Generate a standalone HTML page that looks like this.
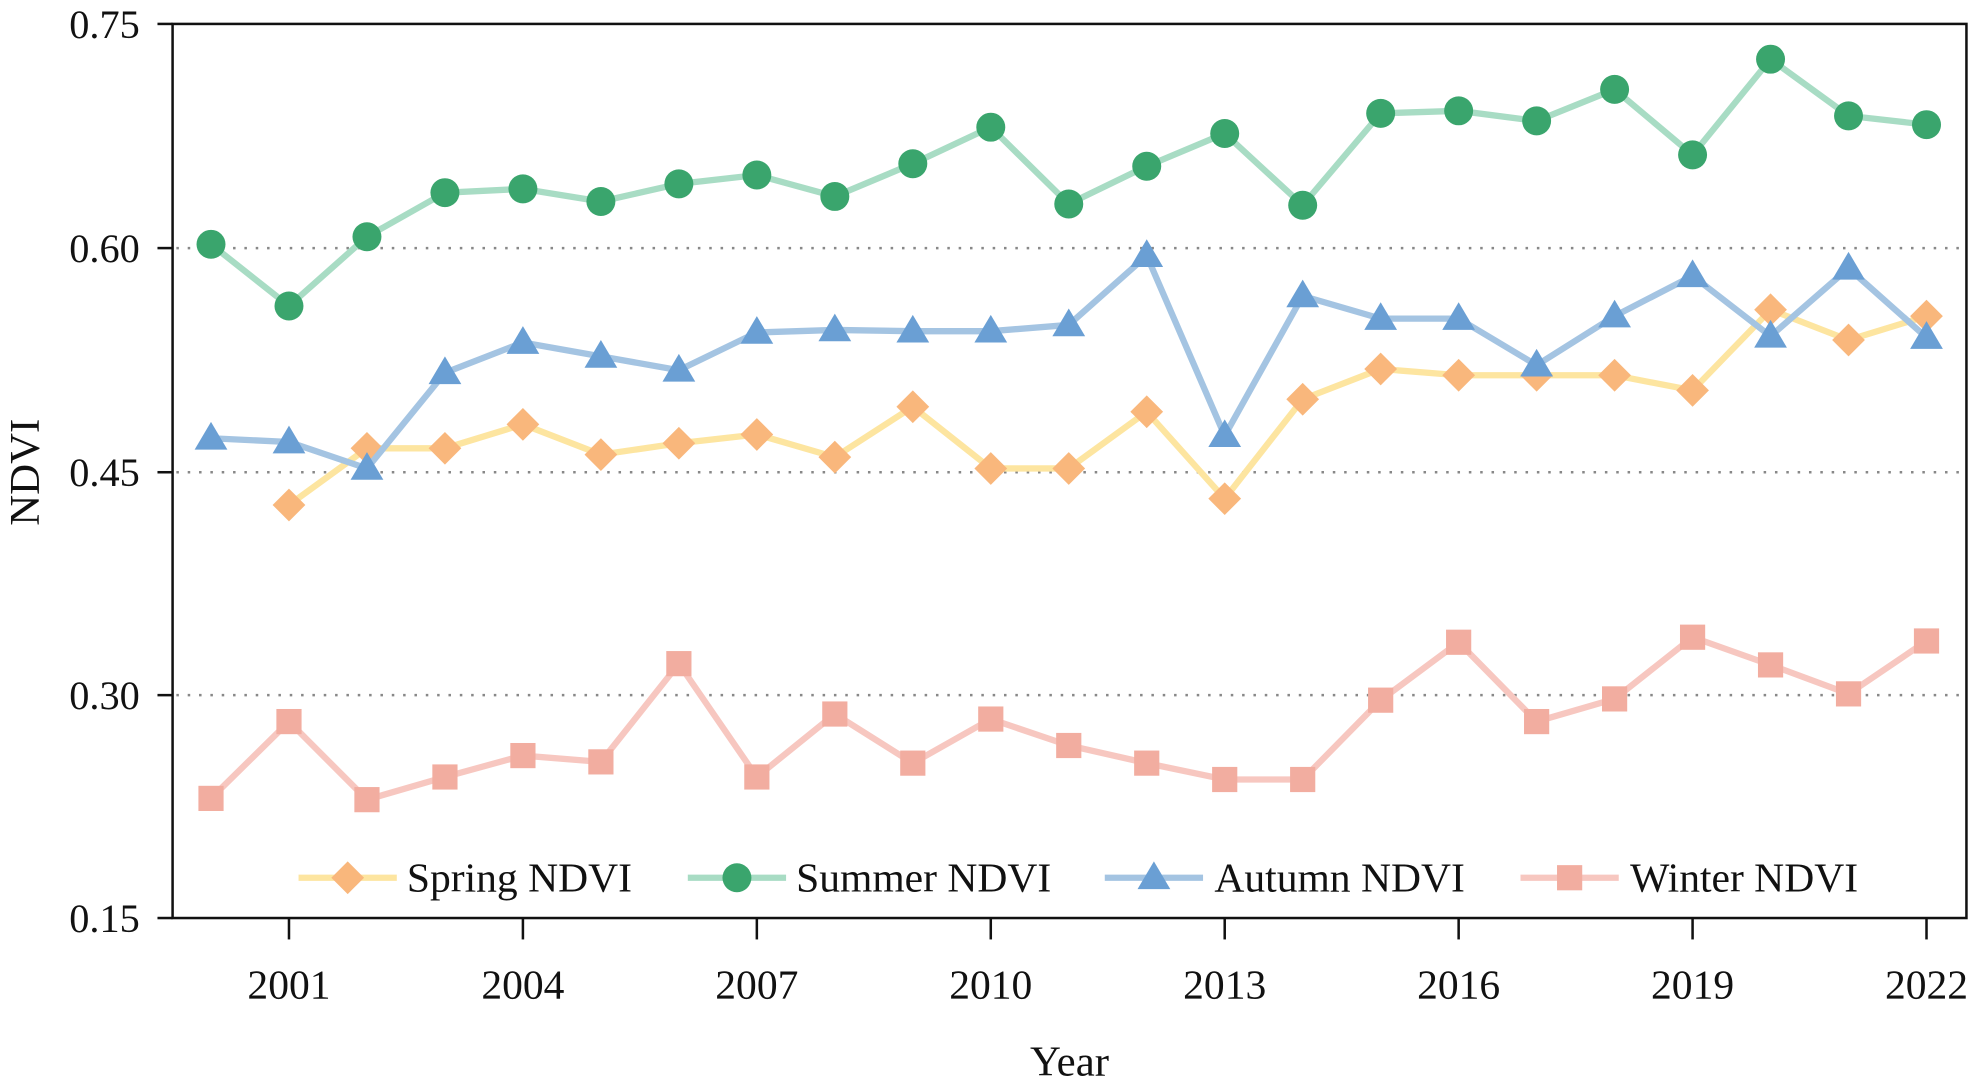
<!DOCTYPE html>
<html><head><style>html,body{margin:0;padding:0;background:#fff}svg{display:block}</style></head><body>
<svg width="1974" height="1083" viewBox="0 0 1567 860" preserveAspectRatio="none" xmlns="http://www.w3.org/2000/svg" font-family="Liberation Serif, serif" fill="#111">
<g stroke="#888" stroke-width="2" stroke-dasharray="2,7">
<line x1="140" y1="197" x2="1560" y2="197"/><line x1="140" y1="375" x2="1560" y2="375"/><line x1="140" y1="552" x2="1560" y2="552"/>
</g>
<rect x="137" y="19" width="1424" height="710" fill="none" stroke="#111" stroke-width="2"/>
<g stroke="#111" stroke-width="2">
<line x1="125" y1="19" x2="137" y2="19"/><line x1="125" y1="197" x2="137" y2="197"/><line x1="125" y1="375" x2="137" y2="375"/><line x1="125" y1="552" x2="137" y2="552"/><line x1="125" y1="729" x2="137" y2="729"/>
<line x1="229.4" y1="729" x2="229.4" y2="746"/><line x1="415.1" y1="729" x2="415.1" y2="746"/><line x1="600.8" y1="729" x2="600.8" y2="746"/><line x1="786.5" y1="729" x2="786.5" y2="746"/><line x1="972.2" y1="729" x2="972.2" y2="746"/><line x1="1157.9" y1="729" x2="1157.9" y2="746"/><line x1="1343.6" y1="729" x2="1343.6" y2="746"/><line x1="1529.3" y1="729" x2="1529.3" y2="746"/>
</g>
<g font-size="32" text-anchor="end">
<text x="111" y="30">0.75</text><text x="111" y="208">0.60</text><text x="111" y="386">0.45</text><text x="111" y="563">0.30</text><text x="111" y="740">0.15</text>
</g>
<g font-size="33" text-anchor="middle">
<text x="229.4" y="793">2001</text><text x="415.1" y="793">2004</text><text x="600.8" y="793">2007</text><text x="786.5" y="793">2010</text><text x="972.2" y="793">2013</text><text x="1157.9" y="793">2016</text><text x="1343.6" y="793">2019</text><text x="1529.3" y="793">2022</text>
<text x="849" y="854" font-size="34">Year</text>
<text transform="translate(31,375) rotate(-90)" font-size="34">NDVI</text>
</g>
<!-- Summer -->
<polyline fill="none" stroke="#a8dcc4" stroke-width="5" points="167.5,194 229.4,243 291.3,188 353.2,153 415.1,150 477,160 538.9,146 600.8,139 662.7,156 724.6,130 786.5,101 848.4,162 910.3,132 972.2,106 1034.1,163 1096,90 1157.9,88 1219.8,96 1281.7,71 1343.6,123 1405.5,47 1467.4,92 1529.3,99"/>
<g fill="#3aa56d">
<circle cx="167.5" cy="194" r="11.5"/><circle cx="229.4" cy="243" r="11.5"/><circle cx="291.3" cy="188" r="11.5"/><circle cx="353.2" cy="153" r="11.5"/><circle cx="415.1" cy="150" r="11.5"/><circle cx="477" cy="160" r="11.5"/><circle cx="538.9" cy="146" r="11.5"/><circle cx="600.8" cy="139" r="11.5"/><circle cx="662.7" cy="156" r="11.5"/><circle cx="724.6" cy="130" r="11.5"/><circle cx="786.5" cy="101" r="11.5"/><circle cx="848.4" cy="162" r="11.5"/><circle cx="910.3" cy="132" r="11.5"/><circle cx="972.2" cy="106" r="11.5"/><circle cx="1034.1" cy="163" r="11.5"/><circle cx="1096" cy="90" r="11.5"/><circle cx="1157.9" cy="88" r="11.5"/><circle cx="1219.8" cy="96" r="11.5"/><circle cx="1281.7" cy="71" r="11.5"/><circle cx="1343.6" cy="123" r="11.5"/><circle cx="1405.5" cy="47" r="11.5"/><circle cx="1467.4" cy="92" r="11.5"/><circle cx="1529.3" cy="99" r="11.5"/>
</g>
<!-- Spring -->
<polyline fill="none" stroke="#fde5a0" stroke-width="5" points="229.4,401 291.3,356 353.2,356 415.1,337 477,361 538.9,352 600.8,345 662.7,363 724.6,323 786.5,372 848.4,372 910.3,327 972.2,396 1034.1,317 1096,293 1157.9,298 1219.8,298 1281.7,298 1343.6,310 1405.5,246 1467.4,270 1529.3,251"/>
<g fill="#f9b77c">
<path d="M229.4,388l13,13l-13,13l-13,-13z"/><path d="M291.3,343l13,13l-13,13l-13,-13z"/><path d="M353.2,343l13,13l-13,13l-13,-13z"/><path d="M415.1,324l13,13l-13,13l-13,-13z"/><path d="M477,348l13,13l-13,13l-13,-13z"/><path d="M538.9,339l13,13l-13,13l-13,-13z"/><path d="M600.8,332l13,13l-13,13l-13,-13z"/><path d="M662.7,350l13,13l-13,13l-13,-13z"/><path d="M724.6,310l13,13l-13,13l-13,-13z"/><path d="M786.5,359l13,13l-13,13l-13,-13z"/><path d="M848.4,359l13,13l-13,13l-13,-13z"/><path d="M910.3,314l13,13l-13,13l-13,-13z"/><path d="M972.2,383l13,13l-13,13l-13,-13z"/><path d="M1034.1,304l13,13l-13,13l-13,-13z"/><path d="M1096,280l13,13l-13,13l-13,-13z"/><path d="M1157.9,285l13,13l-13,13l-13,-13z"/><path d="M1219.8,285l13,13l-13,13l-13,-13z"/><path d="M1281.7,285l13,13l-13,13l-13,-13z"/><path d="M1343.6,297l13,13l-13,13l-13,-13z"/><path d="M1405.5,233l13,13l-13,13l-13,-13z"/><path d="M1467.4,257l13,13l-13,13l-13,-13z"/><path d="M1529.3,238l13,13l-13,13l-13,-13z"/>
</g>
<!-- Autumn -->
<polyline fill="none" stroke="#a4c4e2" stroke-width="5" points="167.5,348 229.4,351 291.3,372 353.2,296 415.1,272 477,283 538.9,294 600.8,264 662.7,262 724.6,263 786.5,263 848.4,258 910.3,203 972.2,346 1034.1,235 1096,253 1157.9,253 1219.8,290 1281.7,251 1343.6,219 1405.5,267 1467.4,213 1529.3,268"/>
<g fill="#6a9fd4">
<path d="M167.5,335l13,22h-26z"/><path d="M229.4,338l13,22h-26z"/><path d="M291.3,359l13,22h-26z"/><path d="M353.2,283l13,22h-26z"/><path d="M415.1,259l13,22h-26z"/><path d="M477,270l13,22h-26z"/><path d="M538.9,281l13,22h-26z"/><path d="M600.8,251l13,22h-26z"/><path d="M662.7,249l13,22h-26z"/><path d="M724.6,250l13,22h-26z"/><path d="M786.5,250l13,22h-26z"/><path d="M848.4,245l13,22h-26z"/><path d="M910.3,190l13,22h-26z"/><path d="M972.2,333l13,22h-26z"/><path d="M1034.1,222l13,22h-26z"/><path d="M1096,240l13,22h-26z"/><path d="M1157.9,240l13,22h-26z"/><path d="M1219.8,277l13,22h-26z"/><path d="M1281.7,238l13,22h-26z"/><path d="M1343.6,206l13,22h-26z"/><path d="M1405.5,254l13,22h-26z"/><path d="M1467.4,200l13,22h-26z"/><path d="M1529.3,255l13,22h-26z"/>
</g>
<!-- Winter -->
<polyline fill="none" stroke="#f7c7c0" stroke-width="5" points="167.5,634 229.4,573 291.3,635 353.2,617 415.1,600 477,605 538.9,527 600.8,617 662.7,567 724.6,606 786.5,571 848.4,592 910.3,606 972.2,619 1034.1,619 1096,556 1157.9,510 1219.8,573 1281.7,555 1343.6,506 1405.5,528 1467.4,551 1529.3,509"/>
<g fill="#f2ada0">
<rect x="157.5" y="624" width="20" height="20"/><rect x="219.4" y="563" width="20" height="20"/><rect x="281.3" y="625" width="20" height="20"/><rect x="343.2" y="607" width="20" height="20"/><rect x="405.1" y="590" width="20" height="20"/><rect x="467" y="595" width="20" height="20"/><rect x="528.9" y="517" width="20" height="20"/><rect x="590.8" y="607" width="20" height="20"/><rect x="652.7" y="557" width="20" height="20"/><rect x="714.6" y="596" width="20" height="20"/><rect x="776.5" y="561" width="20" height="20"/><rect x="838.4" y="582" width="20" height="20"/><rect x="900.3" y="596" width="20" height="20"/><rect x="962.2" y="609" width="20" height="20"/><rect x="1024.1" y="609" width="20" height="20"/><rect x="1086" y="546" width="20" height="20"/><rect x="1147.9" y="500" width="20" height="20"/><rect x="1209.8" y="563" width="20" height="20"/><rect x="1271.7" y="545" width="20" height="20"/><rect x="1333.6" y="496" width="20" height="20"/><rect x="1395.5" y="518" width="20" height="20"/><rect x="1457.4" y="541" width="20" height="20"/><rect x="1519.3" y="499" width="20" height="20"/>
</g>
<!-- Legend -->
<g font-size="33">
<line x1="237" y1="697" x2="315" y2="697" stroke="#fde5a0" stroke-width="5"/><path d="M276,684l13,13l-13,13l-13,-13z" fill="#f9b77c"/><text x="323" y="708">Spring NDVI</text>
<line x1="546" y1="697" x2="624" y2="697" stroke="#a8dcc4" stroke-width="5"/><circle cx="585" cy="697" r="11.5" fill="#3aa56d"/><text x="632" y="708">Summer NDVI</text>
<line x1="877" y1="697" x2="955" y2="697" stroke="#a4c4e2" stroke-width="5"/><path d="M916,684l13,22h-26z" fill="#6a9fd4"/><text x="964" y="708">Autumn NDVI</text>
<line x1="1207" y1="697" x2="1285" y2="697" stroke="#f7c7c0" stroke-width="5"/><rect x="1236" y="687" width="20" height="20" fill="#f2ada0"/><text x="1294" y="708">Winter NDVI</text>
</g>
</svg>
</body></html>
